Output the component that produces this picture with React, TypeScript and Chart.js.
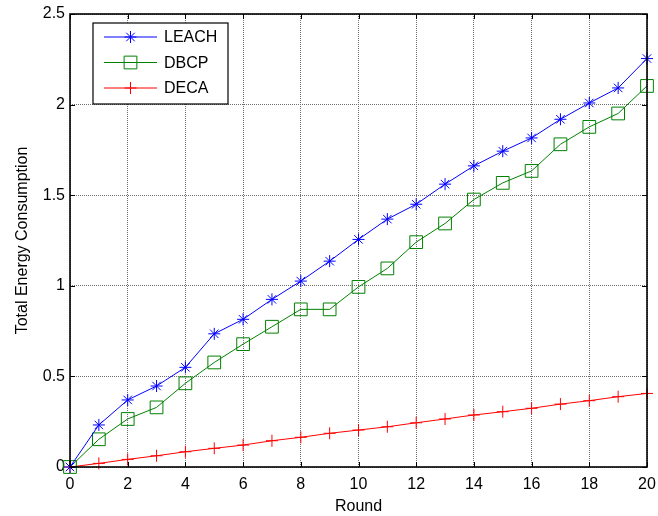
import React, { useEffect, useRef } from "react";
import { Chart, registerables } from "chart.js";
import { drawPoint } from "chart.js/helpers";

Chart.register(...registerables);

const rounds: number[] = [0, 1, 2, 3, 4, 5, 6, 7, 8, 9, 10, 11, 12, 13, 14, 15, 16, 17, 18, 19, 20];
const leach: number[] = [0, 0.232, 0.37, 0.447, 0.55, 0.735, 0.815, 0.925, 1.026, 1.136, 1.256, 1.368, 1.45, 1.561, 1.662, 1.743, 1.816, 1.919, 2.009, 2.092, 2.254];
const dbcp: number[] = [0, 0.153, 0.265, 0.329, 0.462, 0.577, 0.678, 0.774, 0.87, 0.87, 0.994, 1.096, 1.241, 1.344, 1.476, 1.568, 1.634, 1.781, 1.877, 1.951, 2.103];
const deca: number[] = [0, 0.02, 0.042, 0.062, 0.084, 0.103, 0.121, 0.145, 0.164, 0.186, 0.204, 0.222, 0.244, 0.265, 0.287, 0.305, 0.324, 0.347, 0.366, 0.388, 0.406];
const seriesNames: string[] = ["LEACH", "DBCP", "DECA"];
const xTitle = "Round";
const yTitle = "Total Energy Consumption";

const FONT = "'Liberation Sans', Arial, sans-serif";

const boxPlugin = {
  id: "matlabBox",
  afterDraw(chart: any) {
    const { ctx, chartArea: a, scales } = chart;
    ctx.save();
    // inside ticks
    ctx.strokeStyle = "#000";
    ctx.lineWidth = 1;
    const tl = 5;
    scales.x.ticks.forEach((t: any) => {
      const px = Math.round(scales.x.getPixelForValue(t.value)) + 0.5;
      ctx.beginPath();
      ctx.moveTo(px, a.bottom);
      ctx.lineTo(px, a.bottom - tl);
      ctx.moveTo(px, a.top);
      ctx.lineTo(px, a.top + tl);
      ctx.stroke();
    });
    scales.y.ticks.forEach((t: any) => {
      const py = Math.round(scales.y.getPixelForValue(t.value)) + 0.5;
      ctx.beginPath();
      ctx.moveTo(a.left, py);
      ctx.lineTo(a.left + tl, py);
      ctx.moveTo(a.right, py);
      ctx.lineTo(a.right - tl, py);
      ctx.stroke();
    });
    // frame
    ctx.lineWidth = 1.6;
    ctx.strokeRect(a.left, a.top, a.right - a.left, a.bottom - a.top);

    // legend
    const lx = a.left + 23;
    const ly = a.top + 9;
    const lw = 135;
    const lh = 81;
    ctx.fillStyle = "#fff";
    ctx.fillRect(lx, ly, lw, lh);
    ctx.lineWidth = 1.2;
    ctx.strokeStyle = "#000";
    ctx.strokeRect(lx, ly, lw, lh);
    chart.data.datasets.forEach((ds: any, i: number) => {
      const cy = ly + 14 + i * 25.5;
      ctx.strokeStyle = ds.borderColor;
      ctx.lineWidth = 1;
      ctx.beginPath();
      ctx.moveTo(lx + 11, cy);
      ctx.lineTo(lx + 64, cy);
      ctx.stroke();
      ctx.strokeStyle = ds.pointBorderColor;
      ctx.fillStyle = "rgba(0,0,0,0)";
      ctx.lineWidth = 1;
      drawPoint(
        ctx,
        { pointStyle: ds.pointStyle, rotation: 0, borderWidth: 1, radius: ds.pointRadius } as any,
        lx + 37.5,
        cy
      );
      ctx.fillStyle = "#000";
      ctx.font = "16px " + FONT;
      ctx.textBaseline = "middle";
      ctx.textAlign = "left";
      ctx.fillText(ds.label, lx + 71, cy + 1);
    });
    ctx.restore();
  },
};

export default function App() {
  const ref = useRef<HTMLCanvasElement | null>(null);
  useEffect(() => {
    document.body.style.margin = "0";
    const canvas = ref.current;
    if (!canvas) return;
    const mk = (vals: number[]) => rounds.map((r, i) => ({ x: r, y: vals[i] }));
    const chart = new Chart(canvas, {
      type: "line",
      data: {
        datasets: [
          {
            label: seriesNames[0],
            data: mk(leach),
            borderColor: "#0000ff",
            pointBorderColor: "#0000ff",
            pointBackgroundColor: "rgba(0,0,0,0)",
            pointStyle: "star",
            pointRadius: 6,
            borderWidth: 1,
            pointBorderWidth: 1,
            clip: false,
          },
          {
            label: seriesNames[1],
            data: mk(dbcp),
            borderColor: "#008000",
            pointBorderColor: "#008000",
            pointBackgroundColor: "rgba(0,0,0,0)",
            pointStyle: "rect",
            pointRadius: 9,
            borderWidth: 1,
            pointBorderWidth: 1,
            clip: false,
          },
          {
            label: seriesNames[2],
            data: mk(deca),
            borderColor: "#ff0000",
            pointBorderColor: "#ff0000",
            pointBackgroundColor: "rgba(0,0,0,0)",
            pointStyle: "cross",
            pointRadius: 6,
            borderWidth: 1,
            pointBorderWidth: 1,
            clip: false,
          },
        ] as any,
      },
      options: {
        animation: false,
        responsive: false,
        devicePixelRatio: 1,
        layout: { padding: { top: 14, right: 11, left: 0, bottom: 0 } },
        plugins: { legend: { display: false }, tooltip: { enabled: false } },
        elements: { line: { tension: 0 } },
        scales: {
          x: {
            type: "linear",
            min: 0,
            max: 20,
            ticks: {
              stepSize: 2,
              padding: 8,
              color: "#000",
              font: { family: FONT, size: 16 },
              maxRotation: 0,
            },
            grid: { color: "#6e6e6e", drawTicks: false, lineWidth: 1 },
            border: { display: false, dash: [1, 1] },
            title: {
              display: true,
              text: xTitle,
              color: "#000",
              font: { family: FONT, size: 16 },
              padding: { top: 0, bottom: 0 },
            },
            afterFit: (s: any) => {
              s.height = 49;
              s.paddingLeft = 0;
              s.paddingRight = 0;
            },
          },
          y: {
            type: "linear",
            min: 0,
            max: 2.5,
            ticks: {
              stepSize: 0.5,
              padding: 5,
              color: "#000",
              font: { family: FONT, size: 16 },
              callback: (v: any) => String(v),
            },
            grid: { color: "#6e6e6e", drawTicks: false, lineWidth: 1 },
            border: { display: false, dash: [1, 1] },
            title: {
              display: true,
              text: yTitle,
              color: "#000",
              font: { family: FONT, size: 16 },
              padding: { top: 13, bottom: 0 },
            },
            afterFit: (s: any) => {
              s.width = 70;
              s.paddingTop = 0;
              s.paddingBottom = 0;
            },
          },
        },
      },
      plugins: [boxPlugin],
    });
    return () => chart.destroy();
  }, []);
  return <canvas ref={ref} width={658} height={516} style={{ display: "block" }} />;
}
